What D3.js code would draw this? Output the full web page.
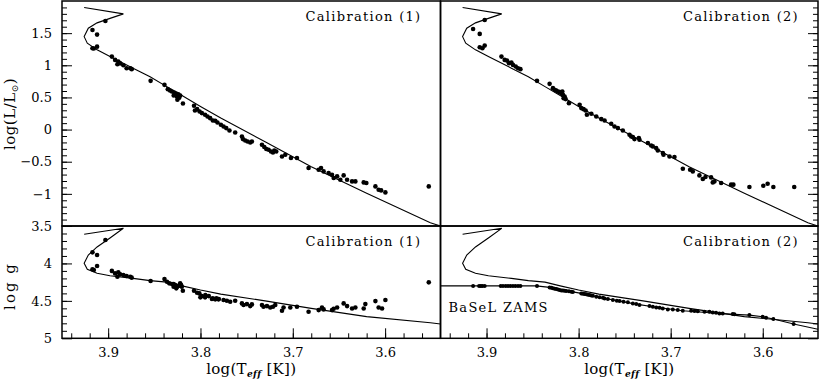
<!DOCTYPE html>
<html>
<head>
<meta charset="utf-8">
<script src="https://cdn.jsdelivr.net/npm/d3@7"></script>
<style>
  body { margin: 0; background: #fff; }
  text { font-family: "DejaVu Serif", serif; fill: #000; }
</style>
</head>
<body>
<div id="chart"></div>
<script>
////////////////////////////////////////////////////////////////
// Data

// model track, shared by all four panels
var trackTeff = [3.926, 3.8835, 3.898, 3.912, 3.9215, 3.926, 3.9226, 3.912, 3.898, 3.873, 3.8546, 3.8365, 3.82, 3.80, 3.778, 3.73, 3.68, 3.62, 3.551, 3.54];
var trackLogL = [1.90, 1.80, 1.73, 1.66, 1.576, 1.446, 1.343, 1.24, 1.135, 0.955, 0.82, 0.668, 0.53, 0.36, 0.18, -0.19, -0.58, -0.99, -1.45, -1.50];
var trackLogG = [3.611, 3.531, 3.66, 3.78, 3.888, 3.999, 4.079, 4.13, 4.165, 4.20, 4.23, 4.25, 4.30, 4.356, 4.41, 4.50, 4.60, 4.71, 4.793, 4.81];

// BaSeL ZAMS (bottom right only)
var baselTeff = [3.95, 3.846, 3.8315, 3.8206, 3.8062, 3.7971, 3.7808, 3.7555, 3.7374, 3.7194, 3.6869, 3.6471, 3.6145, 3.6001, 3.5885, 3.5665, 3.54];
var baselLogG = [4.30, 4.30, 4.32, 4.356, 4.38, 4.40, 4.445, 4.503, 4.543, 4.579, 4.632, 4.668, 4.69, 4.712, 4.743, 4.81, 4.88];

// Calibration (1): [log Teff, log L/Lsun]
var cal1Lum = [
  [3.903,1.69],[3.917,1.55],[3.912,1.477],[3.912,1.29],[3.917,1.265],[3.9155,1.26],[3.896,1.135],[3.8925,1.084],
  [3.889,1.06],[3.890,1.017],[3.887,1.03],[3.8835,1.0],[3.88,0.955],[3.876,0.955],[3.8745,0.94],[3.854,0.758],
  [3.839,0.696],[3.8354,0.629],[3.833,0.607],[3.831,0.592],[3.8285,0.576],[3.8264,0.56],[3.824,0.55],[3.822,0.53],
  [3.8256,0.514],[3.829,0.53],[3.823,0.494],[3.825,0.463],[3.819,0.405],[3.807,0.37],[3.8036,0.318],[3.801,0.28],
  [3.806,0.297],[3.7985,0.256],[3.795,0.230],[3.7924,0.203],[3.7895,0.178],[3.7866,0.141],[3.784,0.137],[3.7816,0.110],
  [3.7779,0.075],[3.775,0.048],[3.7721,0.023],[3.7686,-0.014],[3.7624,-0.045],[3.7551,-0.107],[3.754,-0.148],[3.7515,-0.169],
  [3.749,-0.185],[3.7461,-0.200],[3.7443,-0.185],[3.7334,-0.236],[3.7309,-0.272],[3.7287,-0.303],[3.7262,-0.314],[3.7236,-0.34],
  [3.7215,-0.356],[3.72,-0.325],[3.7179,-0.34],[3.7117,-0.418],[3.7081,-0.391],[3.702,-0.443],[3.6955,-0.443],[3.6829,-0.598],
  [3.672,-0.624],[3.6694,-0.598],[3.6666,-0.651],[3.6612,-0.676],[3.6575,-0.702],[3.6557,-0.753],[3.652,-0.728],[3.6485,-0.78],
  [3.6449,-0.713],[3.6412,-0.78],[3.6358,-0.806],[3.6322,-0.806],[3.6232,-0.822],[3.6203,-0.831],[3.6105,-0.884],[3.607,-0.935],
  [3.6043,-0.946],[3.5997,-0.977],[3.5527,-0.884]
];

// Calibration (2): [log Teff, log L/Lsun]
var cal2Lum = [
  [3.902,1.705],[3.9146,1.565],[3.9074,1.488],[3.9074,1.281],[3.9045,1.265],[3.902,1.306],[3.8838,1.135],[3.8803,1.084],
  [3.8778,1.073],[3.8756,1.033],[3.873,1.042],[3.8713,1.006],[3.8683,0.98],[3.8658,0.955],[3.8632,0.94],[3.8452,0.758],
  [3.8315,0.711],[3.8279,0.644],[3.826,0.618],[3.8242,0.607],[3.8224,0.592],[3.8206,0.582],[3.8188,0.567],[3.8177,0.592],
  [3.817,0.54],[3.8152,0.514],[3.8163,0.489],[3.8141,0.474],[3.8105,0.411],[3.7989,0.385],[3.7971,0.334],[3.7946,0.318],
  [3.7924,0.297],[3.791,0.23],[3.7862,0.245],[3.7808,0.203],[3.7754,0.163],[3.7718,0.141],[3.7646,0.09],[3.761,0.048],
  [3.7574,0.023],[3.752,-0.014],[3.7447,-0.081],[3.7429,-0.107],[3.7411,-0.117],[3.7393,-0.148],[3.7346,-0.132],[3.7339,-0.158],
  [3.7248,-0.21],[3.7212,-0.247],[3.7194,-0.262],[3.7158,-0.288],[3.714,-0.325],[3.7085,-0.365],[3.7078,-0.391],[3.7013,-0.418],
  [3.6959,-0.427],[3.6868,-0.609],[3.6789,-0.624],[3.676,-0.651],[3.6688,-0.713],[3.6651,-0.769],[3.6622,-0.738],[3.6561,-0.744],
  [3.6543,-0.822],[3.6525,-0.806],[3.6452,-0.831],[3.6344,-0.857],[3.6319,-0.857],[3.6145,-0.893],[3.5994,-0.873],[3.5947,-0.842],
  [3.5885,-0.893],[3.5658,-0.893]
];

// Calibration (1): [log Teff, log g]
var cal1Grav = [
  [3.903,3.687],[3.917,3.852],[3.912,3.888],[3.912,4.035],[3.917,4.079],[3.9155,4.088],[3.896,4.10],[3.8925,4.133],
  [3.889,4.119],[3.890,4.178],[3.887,4.146],[3.8835,4.155],[3.88,4.168],[3.876,4.178],[3.8745,4.19],[3.854,4.235],
  [3.839,4.209],[3.8363,4.244],[3.8338,4.266],[3.8309,4.275],[3.8291,4.275],[3.8273,4.289],[3.8255,4.311],[3.8262,4.333],
  [3.8237,4.30],[3.822,4.266],[3.8209,4.289],[3.8202,4.311],[3.8191,4.365],[3.8291,4.311],[3.807,4.365],[3.8037,4.391],
  [3.8012,4.40],[3.8001,4.453],[3.7947,4.422],[3.791,4.436],[3.7867,4.467],[3.7827,4.467],[3.7802,4.476],[3.7985,4.436],
  [3.795,4.453],[3.7876,4.476],[3.784,4.48],[3.7805,4.48],[3.775,4.489],[3.7714,4.498],[3.7678,4.512],[3.7624,4.498],
  [3.7551,4.534],[3.7533,4.556],[3.7497,4.543],[3.7461,4.57],[3.7443,4.547],[3.7334,4.556],[3.7317,4.579],[3.728,4.57],
  [3.7244,4.588],[3.7215,4.579],[3.719,4.556],[3.7117,4.632],[3.71,4.588],[3.7027,4.588],[3.6955,4.579],[3.6829,4.646],
  [3.672,4.623],[3.6684,4.588],[3.6666,4.614],[3.6575,4.623],[3.6557,4.605],[3.652,4.588],[3.6449,4.534],[3.6412,4.57],
  [3.6358,4.601],[3.6322,4.588],[3.6232,4.601],[3.6214,4.543],[3.6105,4.503],[3.607,4.588],[3.6033,4.601],[3.5997,4.489],
  [3.5527,4.253]
];

// Calibration (2): [log Teff, log g]
var cal2Grav = [
  [3.9146,4.30],[3.9081,4.30],[3.9063,4.30],[3.9045,4.30],[3.902,4.30],[3.8846,4.30],[3.8821,4.30],[3.8792,4.30],
  [3.8767,4.30],[3.8741,4.30],[3.8713,4.30],[3.8687,4.30],[3.8658,4.30],[3.8632,4.30],[3.8452,4.30],[3.8315,4.32],
  [3.8296,4.325],[3.8279,4.333],[3.826,4.337],[3.8242,4.342],[3.8224,4.349],[3.8206,4.356],[3.8188,4.36],[3.817,4.363],
  [3.8152,4.366],[3.8134,4.369],[3.8105,4.373],[3.8079,4.378],[3.8062,4.38],[3.7971,4.40],[3.7953,4.404],[3.7935,4.408],
  [3.7917,4.413],[3.7899,4.418],[3.7881,4.422],[3.7862,4.427],[3.7845,4.43],[3.7808,4.445],[3.7772,4.452],[3.7736,4.46],
  [3.7718,4.467],[3.7682,4.475],[3.7628,4.489],[3.7585,4.497],[3.7555,4.503],[3.7512,4.512],[3.7465,4.52],[3.7411,4.534],
  [3.7374,4.543],[3.7339,4.556],[3.723,4.57],[3.7194,4.579],[3.7157,4.588],[3.7121,4.592],[3.7086,4.601],[3.7031,4.614],
  [3.6977,4.614],[3.6923,4.623],[3.6869,4.632],[3.6778,4.632],[3.6742,4.636],[3.6706,4.64],[3.6633,4.646],[3.6579,4.646],
  [3.6543,4.654],[3.6507,4.659],[3.6471,4.668],[3.6435,4.668],[3.6326,4.676],[3.6308,4.68],[3.6145,4.69],[3.6001,4.712],
  [3.5964,4.726],[3.5885,4.743],[3.5665,4.81]
];

// tick values
var teffTicks = [3.9, 3.8, 3.7, 3.6];
var lumTicks = [1.5, 1, 0.5, 0, -0.5, -1];
var gravTicks = [3.5, 4, 4.5, 5];

////////////////////////////////////////////////////////////////
// Basic parameters

var svgWidth = 821;
var svgHeight = 382;
var frameLeft = 62, frameMid = 440.5, frameRight = 818;
var frameTop = 1, frameSplit = 226, frameBottom = 338.3;
var fontSize = 13;
var titleSize = 15;

var svg = d3.select("#chart")
    .append("svg")
    .attr("width", svgWidth)
    .attr("height", svgHeight);

var yLum = d3.scaleLinear().domain([2.0, -1.5]).range([frameTop, frameSplit]);
var yGrav = d3.scaleLinear().domain([3.5, 5.0]).range([frameSplit, frameBottom]);

var minus = d => String(d).replace("-", "\u2212");

////////////////////////////////////////////////////////////////
// Functions

function xScale(x0, x1) {
    return d3.scaleLinear().domain([3.95, 3.54]).range([x0, x1]);
}

function styleAxis(g) {
    g.select(".domain").remove();
    g.selectAll(".tick line").attr("stroke", "#000").attr("stroke-width", 1);
    g.selectAll(".tick text").attr("font-size", fontSize).attr("font-family", "DejaVu Serif").attr("fill", "#000");
}

function drawPanel(p) {
    var x = xScale(p.x0, p.x1);
    var y = p.y;
    var y0 = y.range()[0], y1 = y.range()[1];

    svg.append("clipPath").attr("id", "clip" + p.id)
        .append("rect")
        .attr("x", p.x0).attr("y", y0)
        .attr("width", p.x1 - p.x0).attr("height", y1 - y0);

    var g = svg.append("g").attr("clip-path", `url(#clip${p.id})`);
    var line = d3.line().x(d => x(d[0])).y(d => y(d[1]));

    g.append("path")
        .datum(d3.zip(trackTeff, p.track))
        .attr("d", line)
        .attr("fill", "none")
        .attr("stroke", "#000")
        .attr("stroke-width", 1.1);

    if (p.zams) {
        g.append("path")
            .datum(d3.zip(baselTeff, baselLogG))
            .attr("d", line)
            .attr("fill", "none")
            .attr("stroke", "#000")
            .attr("stroke-width", 1.1);
    }

    g.selectAll("circle")
        .data(p.points)
        .enter()
        .append("circle")
        .attr("cx", d => x(d[0]))
        .attr("cy", d => y(d[1]))
        .attr("r", p.zams ? 2.0 : 2.3)
        .attr("fill", "#000");

    // left axis with labels on the left column, bare ticks on the right edge
    var major = p.y === yLum ? lumTicks : gravTicks;
    var minor = p.y === yLum ? d3.range(-14, 20).map(i => i / 10) : d3.range(36, 50).map(i => i / 10);
    if (p.x0 === frameLeft) {
        svg.append("g").attr("transform", `translate(${frameLeft},0)`)
            .call(d3.axisLeft(y).tickValues(minor).tickSize(-5).tickFormat("")).call(styleAxis);
        svg.append("g").attr("transform", `translate(${frameLeft},0)`)
            .call(d3.axisLeft(y).tickValues(major).tickSize(-10).tickPadding(10).tickFormat(minus)).call(styleAxis);
    } else {
        svg.append("g").attr("transform", `translate(${frameRight},0)`)
            .call(d3.axisRight(y).tickValues(minor).tickSize(-5).tickFormat("")).call(styleAxis);
        svg.append("g").attr("transform", `translate(${frameRight},0)`)
            .call(d3.axisRight(y).tickValues(major).tickSize(-10).tickFormat("")).call(styleAxis);
    }

    // x ticks only along the bottom
    if (p.y === yGrav) {
        svg.append("g").attr("transform", `translate(0,${frameBottom})`)
            .call(d3.axisBottom(x).tickValues(d3.range(178, 198).map(i => i / 50)).tickSize(-5).tickFormat("")).call(styleAxis);
        svg.append("g").attr("transform", `translate(0,${frameBottom})`)
            .call(d3.axisBottom(x).tickValues(teffTicks).tickSize(-10).tickPadding(9).tickFormat(d3.format(".1f"))).call(styleAxis);

        var xl = svg.append("text")
            .attr("x", (p.x0 + p.x1) / 2)
            .attr("y", 374)
            .attr("text-anchor", "middle")
            .attr("font-size", titleSize)
            .attr("letter-spacing", 0.3);
        xl.append("tspan").text("log(T");
        xl.append("tspan").attr("font-size", 9).attr("font-weight", "bold").attr("font-style", "italic")
            .attr("dy", 3).text("eff");
        xl.append("tspan").attr("dy", -3).text(" [K])");
    }

    svg.append("text")
        .attr("x", p.x1 - 19)
        .attr("y", y0 + 20)
        .attr("text-anchor", "end")
        .attr("font-size", fontSize)
        .attr("letter-spacing", 1.3)
        .text(p.label);

    if (p.zams) {
        svg.append("text")
            .attr("x", p.x0 + 8)
            .attr("y", 312)
            .attr("font-size", fontSize)
            .attr("letter-spacing", 1.3)
            .text("BaSeL ZAMS");
    }

    svg.append("rect")
        .attr("x", p.x0).attr("y", y0)
        .attr("width", p.x1 - p.x0).attr("height", y1 - y0)
        .attr("fill", "none")
        .attr("stroke", "#000")
        .attr("stroke-width", 1.5);
}

////////////////////////////////////////////////////////////////
// Draw the four panels

var panels = [
    { id: 1, x0: frameLeft, x1: frameMid, y: yLum, track: trackLogL, points: cal1Lum, label: "Calibration (1)" },
    { id: 2, x0: frameMid, x1: frameRight, y: yLum, track: trackLogL, points: cal2Lum, label: "Calibration (2)" },
    { id: 3, x0: frameLeft, x1: frameMid, y: yGrav, track: trackLogG, points: cal1Grav, label: "Calibration (1)" },
    { id: 4, x0: frameMid, x1: frameRight, y: yGrav, track: trackLogG, points: cal2Grav, label: "Calibration (2)", zams: true }
];
panels.forEach(drawPanel);

// y axis titles
var yl1 = svg.append("text")
    .attr("transform", "translate(15,114) rotate(-90)")
    .attr("text-anchor", "middle")
    .attr("font-size", titleSize)
    .attr("letter-spacing", 0.5);
yl1.append("tspan").text("log(L/L");
yl1.append("tspan").attr("font-size", 9).attr("dy", 3).text("\u2299");
yl1.append("tspan").attr("dy", -3).text(")");

svg.append("text")
    .attr("transform", "translate(15,286) rotate(-90)")
    .attr("text-anchor", "middle")
    .attr("font-size", titleSize)
    .attr("letter-spacing", 2)
    .text("log g");
</script>
</body>
</html>
